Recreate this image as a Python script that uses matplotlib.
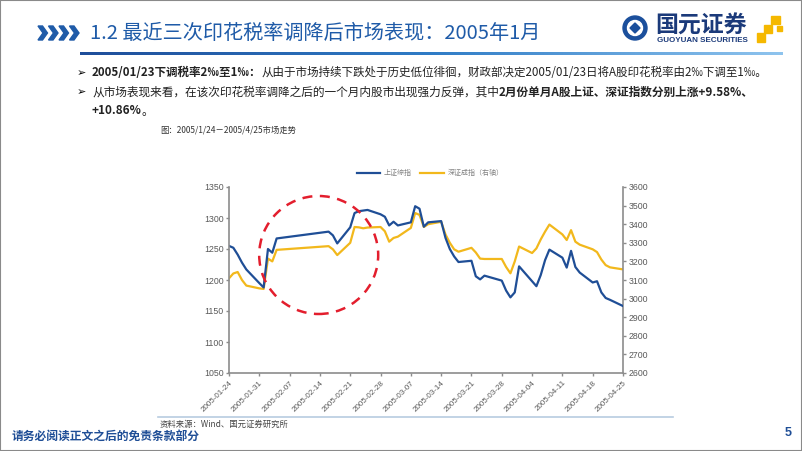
import matplotlib
matplotlib.use("Agg")
import matplotlib.pyplot as plt
import matplotlib.dates as mdates
from matplotlib.patches import Ellipse, Polygon, Rectangle
from matplotlib.colors import LinearSegmentedColormap
from matplotlib.lines import Line2D
import numpy as np
import pandas as pd

# ---- data ----
dates = (
    ["2005-01-24", "2005-01-25", "2005-01-26", "2005-01-27", "2005-01-28", "2005-01-31"]
    + ["2005-02-01", "2005-02-02", "2005-02-03", "2005-02-04", "2005-02-16", "2005-02-17",
       "2005-02-18", "2005-02-21", "2005-02-22", "2005-02-23", "2005-02-24", "2005-02-25",
       "2005-02-28"]
    + ["2005-03-01", "2005-03-02", "2005-03-03", "2005-03-04", "2005-03-07", "2005-03-08",
       "2005-03-09", "2005-03-10", "2005-03-11", "2005-03-14", "2005-03-15", "2005-03-16",
       "2005-03-17", "2005-03-18", "2005-03-21", "2005-03-22", "2005-03-23", "2005-03-24",
       "2005-03-25", "2005-03-28", "2005-03-29", "2005-03-30", "2005-03-31"]
    + ["2005-04-01", "2005-04-04", "2005-04-05", "2005-04-06", "2005-04-07", "2005-04-08",
       "2005-04-11", "2005-04-12", "2005-04-13", "2005-04-14", "2005-04-15", "2005-04-18",
       "2005-04-19", "2005-04-20", "2005-04-21", "2005-04-22", "2005-04-25"]
)
sh_index = (
    [1255, 1252, 1241, 1228, 1217, 1195]
    + [1188, 1250, 1244, 1267, 1278, 1272, 1259, 1285, 1308, 1311, 1312, 1313, 1306]
    + [1302, 1288, 1294, 1288, 1293, 1319, 1315, 1286, 1293, 1295, 1268, 1250, 1238,
       1229, 1231, 1206, 1201, 1207, 1205, 1199, 1183, 1172, 1180]
    + [1222, 1198, 1190, 1208, 1232, 1249, 1236, 1220, 1247, 1221, 1212, 1196, 1198,
       1180, 1171, 1168, 1158]
)
sz_index = (
    [3109, 3135, 3143, 3100, 3070, 3055]
    + [3052, 3215, 3200, 3262, 3282, 3265, 3234, 3300, 3385, 3383, 3378, 3382, 3385]
    + [3362, 3306, 3326, 3333, 3380, 3460, 3450, 3385, 3400, 3413, 3345, 3300, 3265,
       3252, 3273, 3248, 3215, 3213, 3213, 3213, 3170, 3136, 3200]
    + [3280, 3245, 3270, 3318, 3360, 3398, 3345, 3315, 3368, 3306, 3290, 3265, 3250,
       3210, 3180, 3168, 3157]
)
series_names = ["上证综指", "深证成指（右轴）"]

title = "1.2 最近三次印花税率调降后市场表现：2005年1月"
caption = "图：2005/1/24－2005/4/25市场走势"
source = "资料来源：Wind、国元证券研究所"
footer = "请务必阅读正文之后的免责条款部分"

W, H = 802, 451
CJK = ["Noto Sans CJK SC", "DejaVu Sans"]
LAT = ["Liberation Sans", "Noto Sans CJK SC"]
BLUE = "#1F4E96"
GOLD = "#F2B81C"
TBLUE = "#1F5BA8"

fig = plt.figure(figsize=(W / 100, H / 100), dpi=100)
renderer = fig.canvas.get_renderer()


def fx(x):
    return x / W


def fy(y):
    return 1 - y / H


def runs(x, y, parts, size, color="#222222", end=None):
    # write text pieces one after another on a line, bold or not;
    # if end is given, the font size is scaled so the line stops there
    if end is not None:
        total = 0
        for s, bold in parts:
            t = fig.text(0, 0, s, fontsize=size, family=CJK,
                         fontweight="bold" if bold else "normal")
            total += t.get_window_extent(renderer).width
            t.remove()
        size = size * (end - x) / total
    for s, bold in parts:
        t = fig.text(fx(x), fy(y), s, fontsize=size, color=color, family=CJK,
                     fontweight="bold" if bold else "normal", va="center", ha="left")
        x += t.get_window_extent(renderer).width
    return size


# slide frame
fig.patches.append(Rectangle((0, 0), 1, 1, transform=fig.transFigure, fill=False,
                             edgecolor="#8A8A8A", lw=1.5))

# chevrons before the title
for i in range(4):
    x0 = 38 + i * 10.5
    pts = [(x0, 26), (x0 + 4.5, 26), (x0 + 9.5, 33), (x0 + 4.5, 40), (x0, 40), (x0 + 5, 33)]
    fig.patches.append(Polygon([(fx(a), fy(b)) for a, b in pts], closed=True,
                               transform=fig.transFigure, color=TBLUE))

fig.text(fx(90), fy(33), title, fontsize=14.5, color=TBLUE, family=CJK, va="center")

# gradient rule under the title
ax_g = fig.add_axes([fx(80), fy(55), fx(783) - fx(80), 3 / H])
ax_g.imshow(np.linspace(0, 1, 256)[None, :], aspect="auto",
            cmap=LinearSegmentedColormap.from_list("g", ["#1F4E9A", "#2F7CC6", "#8FC4EE"]))
ax_g.axis("off")

# logo
fig.patches.append(Ellipse((fx(635), fy(28)), 24 / W, 24 / H, transform=fig.transFigure,
                           color="#1B4F9C"))
fig.patches.append(Ellipse((fx(635), fy(28)), 15 / W, 15 / H, transform=fig.transFigure,
                           color="white"))
dm = [(635, 23), (640, 28), (635, 33), (630, 28)]
fig.patches.append(Polygon([(fx(a), fy(b)) for a, b in dm], closed=True,
                           transform=fig.transFigure, color="#1B4F9C"))
fig.text(fx(655), fy(26), "国元证券", fontsize=16.5, fontweight="bold", color="#1B3A7A",
         family=CJK, va="center")
fig.text(fx(657), fy(41), "GUOYUAN SECURITIES", fontsize=5.8, fontweight="bold",
         color="#1B3A7A", family=LAT, va="center")
for x0, y0, w, h in [(771, 16, 9, 8), (764, 25, 8, 8), (757, 33, 8, 9), (777, 26, 5, 5)]:
    fig.patches.append(Rectangle((fx(x0), fy(y0 + h)), w / W, h / H,
                                 transform=fig.transFigure, color="#F5B800"))

# bullet text
fig.text(fx(77), fy(73), "➢", fontsize=8, family=["DejaVu Sans"], va="center")
runs(92, 73, [("2005/01/23下调税率2‰至1‰：", True),
              ("从由于市场持续下跌处于历史低位徘徊，财政部决定2005/01/23日将A股印花税率由2‰下调至1‰。", False)],
     9, end=770)
fig.text(fx(77), fy(92), "➢", fontsize=8, family=["DejaVu Sans"], va="center")
s2 = runs(92, 92, [("从市场表现来看，在该次印花税率调降之后的一个月内股市出现强力反弹，其中", False),
                   ("2月份单月A股上证、深证指数分别上涨+9.58%、", True)], 9, end=757)
runs(92, 111, [("+10.86%", True), ("。", False)], s2)

fig.text(fx(160), fy(130), caption, fontsize=6, color="#333333", family=CJK, va="center")

# ---- chart ----
x = pd.to_datetime(dates)
ax = fig.add_axes([fx(229), fy(373), fx(623) - fx(229), fy(187) - fy(373)])
ax2 = ax.twinx()
l1, = ax.plot(x, sh_index, color=BLUE, lw=1.6, label=series_names[0])
l2, = ax2.plot(x, sz_index, color=GOLD, lw=1.6, label=series_names[1])
ax.set_zorder(ax2.get_zorder() + 1)
ax.patch.set_visible(False)

ax.set_ylim(1050, 1350)
ax.set_yticks(np.arange(1050, 1351, 50))
ax2.set_ylim(2600, 3600)
ax2.set_yticks(np.arange(2600, 3601, 100))
ax.set_xlim(pd.Timestamp("2005-01-24"), pd.Timestamp("2005-04-25"))
ax.set_xticks(pd.date_range("2005-01-24", "2005-04-25", freq="7D"))
ax.xaxis.set_major_formatter(mdates.DateFormatter("%Y-%m-%d"))

grey = "#8C8C8C"
for a in (ax, ax2):
    for s in a.spines.values():
        s.set_visible(False)
ax.spines["left"].set_visible(True)
ax.spines["bottom"].set_visible(True)
ax2.spines["right"].set_visible(True)
for s in (ax.spines["left"], ax.spines["bottom"], ax2.spines["right"]):
    s.set_color(grey)
    s.set_linewidth(1.2)
for a in (ax, ax2):
    a.tick_params(direction="out", length=2.5, width=1, color=grey, labelsize=6.3,
                  labelcolor="#595959", pad=1.5)
ax.tick_params(axis="x", labelsize=5.8, pad=2)
for lab in ax.get_xticklabels() + ax.get_yticklabels() + ax2.get_yticklabels():
    lab.set_family(LAT)
for lab in ax.get_xticklabels():
    lab.set_rotation(45)
    lab.set_ha("right")
    lab.set_rotation_mode("anchor")

leg = fig.legend([l1, l2], series_names, loc="center", ncol=2, frameon=False,
                 bbox_to_anchor=(fx(430), fy(173)), bbox_transform=fig.transFigure,
                 prop={"family": CJK, "size": 5}, handlelength=3.4, columnspacing=1.2,
                 handletextpad=0.5)
for t in leg.get_texts():
    t.set_color("#808080")

# red dashed circle around the rebound
fig.patches.append(Ellipse((fx(318.7), fy(255)), 119 / W, 118 / H, transform=fig.transFigure,
                           fill=False, edgecolor="#E31E2D", lw=1.8, ls=(0, (4, 3))))

# source line and footer
fig.add_artist(Line2D([fx(158), fx(673)], [fy(417), fy(417)], color="#B8CCE0", lw=1.2))
fig.text(fx(160), fy(424), source, fontsize=6, color="#444444", family=CJK, va="center")
fig.text(fx(12), fy(436), footer, fontsize=8.5, fontweight="bold", color=BLUE,
         family=CJK, va="center")
fig.text(fx(785), fy(433), "5", fontsize=9, fontweight="bold", color=BLUE,
         family=LAT, va="center")

fig.savefig("out.png", dpi=100)
